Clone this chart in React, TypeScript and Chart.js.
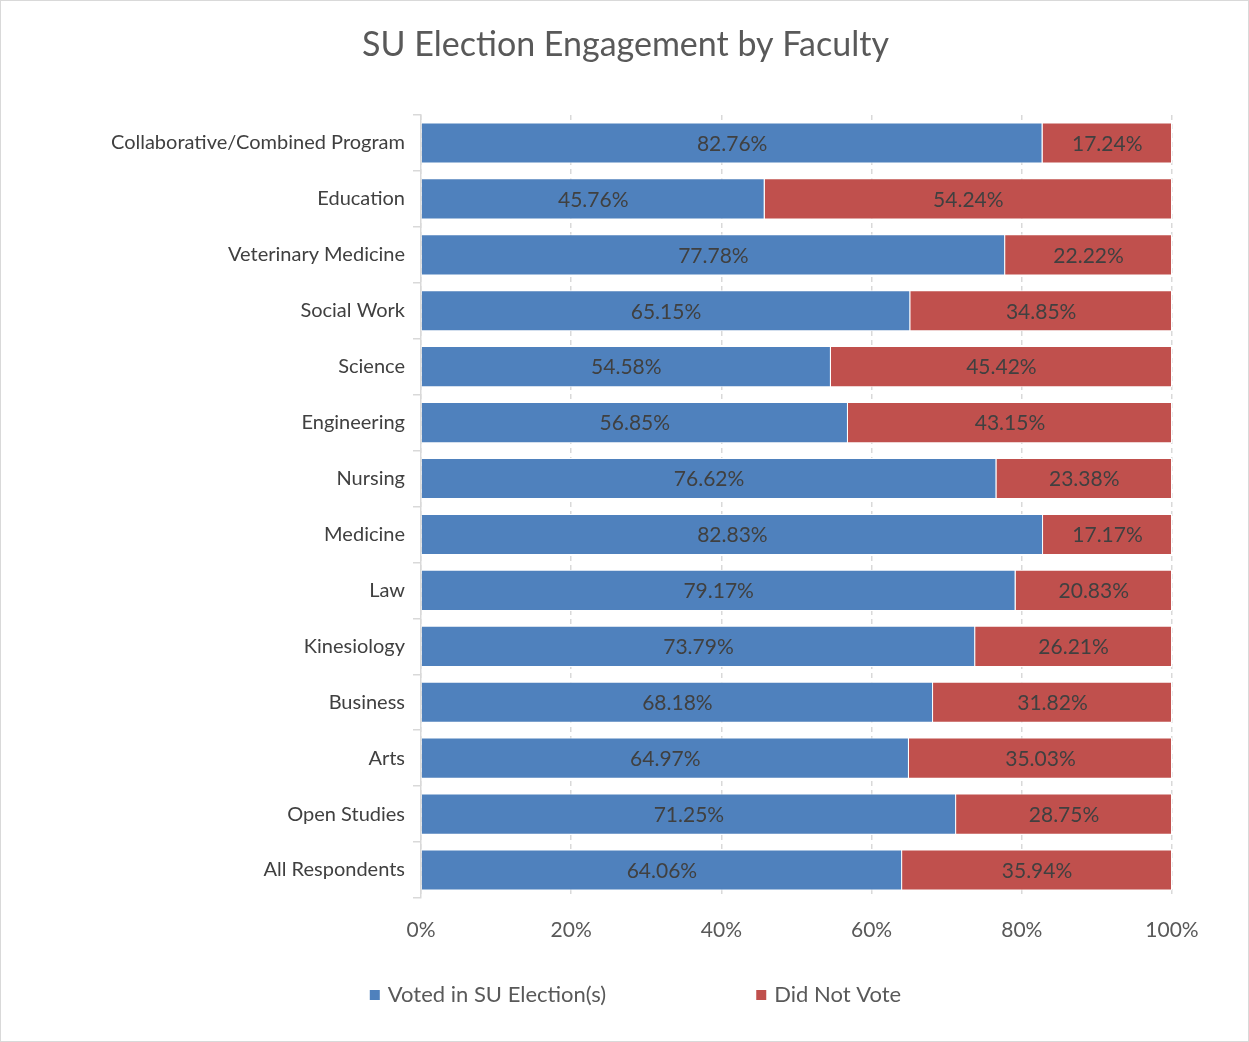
import React, { useEffect, useRef } from "react";
import { Chart, registerables } from "chart.js";

Chart.register(...registerables);

const TITLE = "SU Election Engagement by Faculty";
const categories = [
  "Collaborative/Combined Program",
  "Education",
  "Veterinary Medicine",
  "Social Work",
  "Science",
  "Engineering",
  "Nursing",
  "Medicine",
  "Law",
  "Kinesiology",
  "Business",
  "Arts",
  "Open Studies",
  "All Respondents",
];
const votedLabel = "Voted in SU Election(s)";
const notVotedLabel = "Did Not Vote";
const voted = [82.76, 45.76, 77.78, 65.15, 54.58, 56.85, 76.62, 82.83, 79.17, 73.79, 68.18, 64.97, 71.25, 64.06];
const notVoted = [17.24, 54.24, 22.22, 34.85, 45.42, 43.15, 23.38, 17.17, 20.83, 26.21, 31.82, 35.03, 28.75, 35.94];
const xTicks = [0, 20, 40, 60, 80, 100];

const FONT = "Lato, 'Open Sans', sans-serif";

const titlePlugin = {
  id: "customTitle",
  afterDraw(chart: any) {
    const ctx = chart.ctx;
    ctx.save();
    ctx.font = `34px ${FONT}`;
    ctx.fillStyle = "#595959";
    ctx.textAlign = "center";
    ctx.textBaseline = "middle";
    ctx.fillText(TITLE, chart.width / 2 + 1, 44);
    ctx.restore();
  },
};

const dataLabelPlugin = {
  id: "dataLabels",
  afterDatasetsDraw(chart: any) {
    const ctx = chart.ctx;
    ctx.save();
    ctx.font = `21px ${FONT}`;
    ctx.fillStyle = "#404040";
    ctx.textAlign = "center";
    ctx.textBaseline = "middle";
    chart.data.datasets.forEach((ds: any, i: number) => {
      const meta = chart.getDatasetMeta(i);
      meta.data.forEach((el: any, j: number) => {
        const v = ds.data[j];
        const cx = (el.x + el.base) / 2;
        ctx.fillText(v.toFixed(2) + "%", cx, el.y + 1);
      });
    });
    ctx.restore();
  },
};

const legendPlugin = {
  id: "customLegend",
  afterDraw(chart: any) {
    const ctx = chart.ctx;
    ctx.save();
    ctx.font = `22px ${FONT}`;
    ctx.textBaseline = "middle";
    const box = 10;
    const gapText = 8;
    const gapItems = 150;
    const items = chart.data.datasets.map((ds: any) => ({
      label: ds.label,
      color: ds.backgroundColor,
      w: box + gapText + ctx.measureText(ds.label).width,
    }));
    const total = items.reduce((s: number, it: any) => s + it.w, 0) + gapItems * (items.length - 1);
    let x = chart.width / 2 + 11 - total / 2;
    const y = 994;
    items.forEach((it: any) => {
      ctx.fillStyle = it.color;
      ctx.fillRect(x, y - box / 2, box, box);
      ctx.fillStyle = "#595959";
      ctx.textAlign = "left";
      ctx.fillText(it.label, x + box + gapText, y);
      x += it.w + gapItems;
    });
    ctx.restore();
  },
};

export default function App() {
  const ref = useRef<HTMLCanvasElement | null>(null);
  useEffect(() => {
    document.body.style.margin = "0";
    const chart = new Chart(ref.current as HTMLCanvasElement, {
      type: "bar",
      data: {
        labels: categories,
        datasets: [
          {
            label: votedLabel,
            data: voted,
            backgroundColor: "#4F81BD",
            borderColor: "#ffffff",
            borderWidth: 1,
            barPercentage: 0.735,
            categoryPercentage: 1,
          },
          {
            label: notVotedLabel,
            data: notVoted,
            backgroundColor: "#C0504D",
            borderColor: "#ffffff",
            borderWidth: 1,
            barPercentage: 0.735,
            categoryPercentage: 1,
          },
        ],
      },
      options: {
        indexAxis: "y",
        animation: false,
        responsive: false,
        maintainAspectRatio: false,
        layout: { padding: { left: 0, right: 76, top: 114, bottom: 0 } },
        plugins: {
          legend: { display: false },
          tooltip: { enabled: false },
          title: { display: false },
        },
        scales: {
          x: {
            stacked: true,
            min: 0,
            max: 100,
            afterFit(scale: any) {
              scale.height = 143;
            },
            afterBuildTicks(scale: any) {
              scale.ticks = xTicks.map((v) => ({ value: v }));
            },
            ticks: {
              color: "#595959",
              font: { family: FONT, size: 21 },
              padding: 20,
              callback: (v: any) => v + "%",
            },
            grid: {
              color: "#d9d9d9",
              lineWidth: 1.5,
              drawTicks: false,
            },
            border: { display: false, dash: [5, 4] },
          },
          y: {
            stacked: true,
            afterFit(scale: any) {
              scale.width = 420;
            },
            ticks: {
              color: "#404040",
              font: { family: FONT, size: 20 },
              padding: 8,
            },
            grid: {
              offset: true,
              drawOnChartArea: false,
              drawTicks: true,
              tickLength: 8,
              color: "#d9d9d9",
              lineWidth: 1.5,
            },
            border: { display: true, color: "#d9d9d9", width: 1.5 },
          },
        },
      },
      plugins: [dataLabelPlugin, legendPlugin, titlePlugin],
    } as any);
    return () => chart.destroy();
  }, []);
  return (
    <div
      style={{
        position: "absolute",
        left: 0,
        top: 0,
        width: 1249,
        height: 1042,
        border: "1px solid #d9d9d9",
        boxSizing: "border-box",
        background: "#fff",
      }}
    >
      <canvas ref={ref} width={1247} height={1040} style={{ display: "block" }} />
    </div>
  );
}
